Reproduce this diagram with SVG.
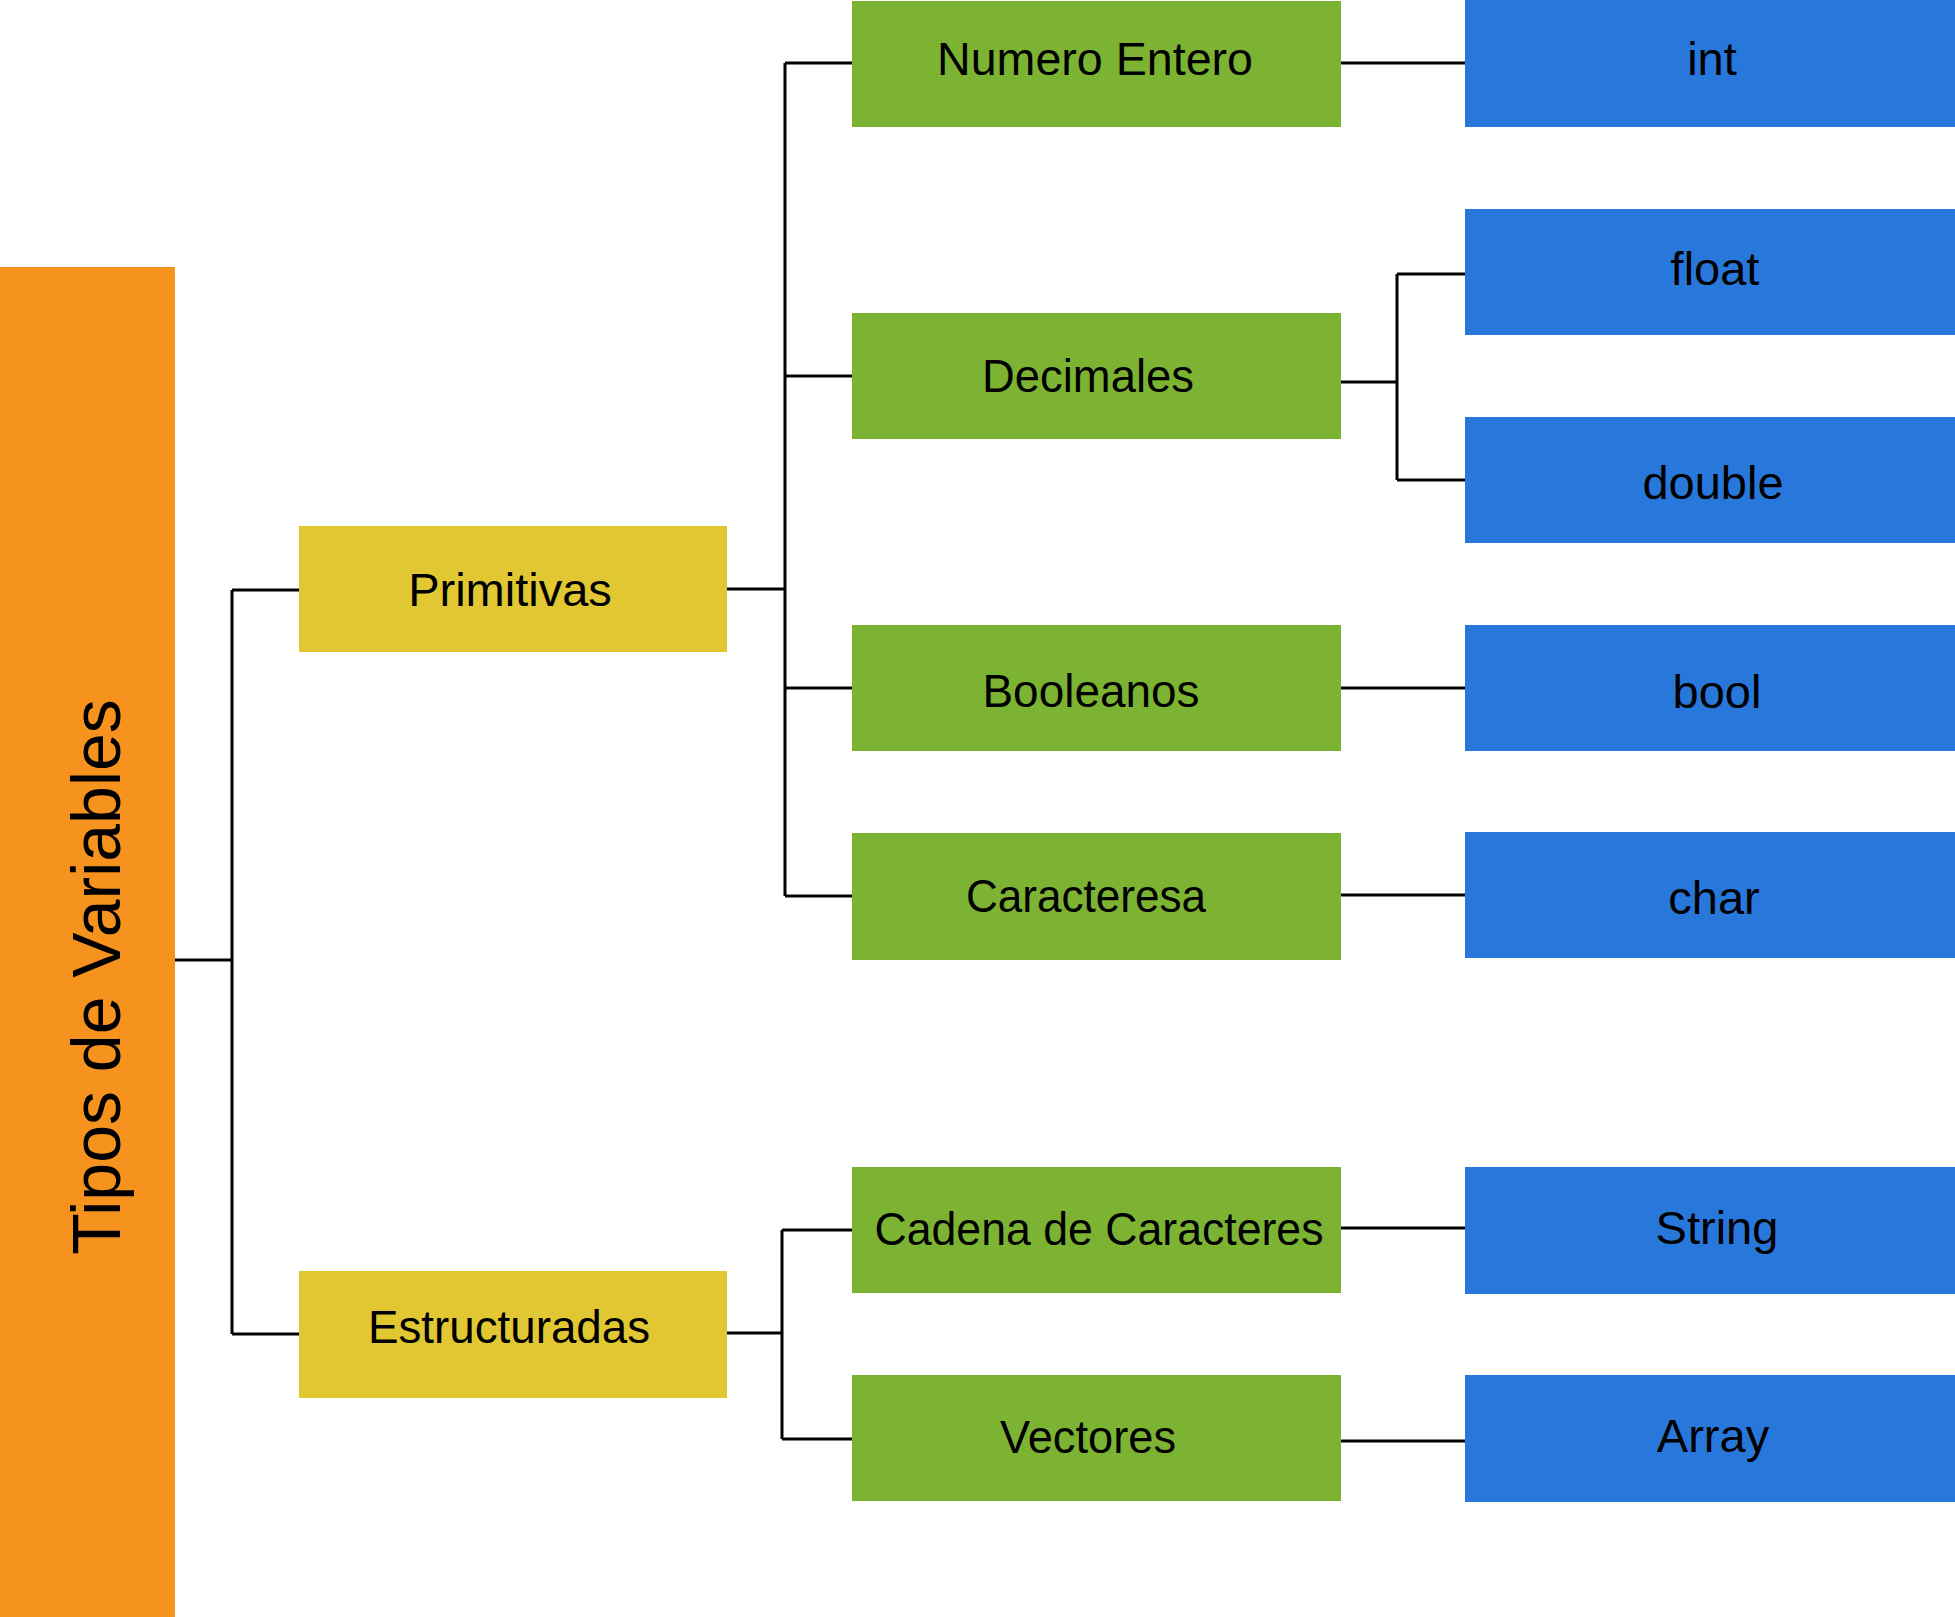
<svg xmlns="http://www.w3.org/2000/svg" width="1955" height="1617" viewBox="0 0 1955 1617">
<style>
.t{font-family:"Liberation Sans",Arial,sans-serif;font-size:47px;fill:#000;text-anchor:middle}
.title{font-family:"Liberation Sans",Arial,sans-serif;font-size:68px;fill:#000;text-anchor:middle}
.o{fill:#F6931F}.y{fill:#E1C731}.g{fill:#7DB333}.b{fill:#2877DB}
.c{fill:none;stroke:#000;stroke-width:3}
</style>
<rect width="1955" height="1617" fill="#fff"/>
<g id="connectors">
<path class="c" d="M175 960H232M232 590V1334M232 590H299M232 1334H299"/>
<path class="c" d="M727 589H785M785 63V896M785 63H852M785 376H852M785 688H852M785 896H852"/>
<path class="c" d="M727 1333H782M782 1230V1439M782 1230H852M782 1439H852"/>
<path class="c" d="M1340 63H1465"/>
<path class="c" d="M1340 382H1397M1397 274V480M1397 274H1465M1397 480H1465"/>
<path class="c" d="M1340 688H1465"/>
<path class="c" d="M1340 895H1465"/>
<path class="c" d="M1340 1228H1465"/>
<path class="c" d="M1340 1441H1465"/>
</g>
<g id="tipos"><rect class="o" x="0" y="267" width="175" height="1350"/><text class="title" transform="translate(120 977) rotate(-90)">Tipos de Variables</text></g>
<g id="primitivas"><rect class="y" x="299" y="526" width="428" height="126"/><text class="t" x="510" y="606">Primitivas</text></g>
<g id="estructuradas"><rect class="y" x="299" y="1271" width="428" height="127"/><text class="t" x="509" y="1343" textLength="282" lengthAdjust="spacingAndGlyphs">Estructuradas</text></g>
<g id="numero"><rect class="g" x="852" y="1" width="489" height="126"/><text class="t" x="1095" y="75" textLength="316" lengthAdjust="spacingAndGlyphs">Numero Entero</text></g>
<g id="decimales"><rect class="g" x="852" y="313" width="489" height="126"/><text class="t" x="1088" y="392" textLength="212" lengthAdjust="spacingAndGlyphs">Decimales</text></g>
<g id="booleanos"><rect class="g" x="852" y="625" width="489" height="126"/><text class="t" x="1091" y="707" textLength="217" lengthAdjust="spacingAndGlyphs">Booleanos</text></g>
<g id="caracteresa"><rect class="g" x="852" y="833" width="489" height="127"/><text class="t" x="1086" y="912" textLength="240" lengthAdjust="spacingAndGlyphs">Caracteresa</text></g>
<g id="cadena"><rect class="g" x="852" y="1167" width="489" height="126"/><text class="t" x="1099" y="1245" textLength="449" lengthAdjust="spacingAndGlyphs">Cadena de Caracteres</text></g>
<g id="vectores"><rect class="g" x="852" y="1375" width="489" height="126"/><text class="t" x="1088" y="1453" textLength="176" lengthAdjust="spacingAndGlyphs">Vectores</text></g>
<g id="int"><rect class="b" x="1465" y="0" width="490" height="127"/><text class="t" x="1712" y="75">int</text></g>
<g id="float"><rect class="b" x="1465" y="209" width="490" height="126"/><text class="t" x="1715" y="285">float</text></g>
<g id="double"><rect class="b" x="1465" y="417" width="490" height="126"/><text class="t" x="1713" y="499">double</text></g>
<g id="bool"><rect class="b" x="1465" y="625" width="490" height="126"/><text class="t" x="1717" y="708">bool</text></g>
<g id="char"><rect class="b" x="1465" y="832" width="490" height="126"/><text class="t" x="1714" y="914">char</text></g>
<g id="string"><rect class="b" x="1465" y="1167" width="490" height="127"/><text class="t" x="1717" y="1244">String</text></g>
<g id="array"><rect class="b" x="1465" y="1375" width="490" height="127"/><text class="t" x="1713" y="1452">Array</text></g>
</svg>
